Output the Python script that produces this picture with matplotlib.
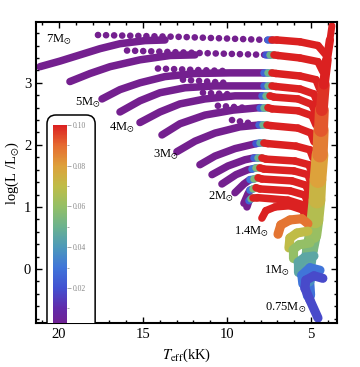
import numpy as np
import matplotlib
matplotlib.use('Agg')
import matplotlib.pyplot as plt
from matplotlib.collections import LineCollection
from matplotlib.colors import LinearSegmentedColormap, Normalize
from matplotlib.cm import ScalarMappable
from matplotlib.patches import FancyBboxPatch
from matplotlib.ticker import MultipleLocator

plt.rcParams['font.family'] = ['Liberation Serif', 'DejaVu Serif']
plt.rcParams['mathtext.fontset'] = 'stix'

# ---- data (Teff in kK, log L/Lsun) ----
# main sequence arcs, 7 Msun down to ~1.9 Msun
ms_T = [
    [21.13, 19.94, 18.75, 17.56, 16.37, 14.88, 13.69],
    [19.35, 18.15, 16.96, 15.18, 13.39, 11.90],
    [17.44, 16.37, 15.18, 13.69, 11.90, 9.82, 7.80],
    [16.37, 15.18, 13.99, 12.50, 10.71, 7.80],
    [15.18, 13.99, 12.80, 11.31, 9.52, 7.92],
    [13.87, 12.80, 11.31, 9.64, 8.04],
    [12.98, 11.90, 10.71, 9.23, 8.10],
    [11.61, 10.71, 9.52, 8.27],
    [10.89, 9.94, 8.93, 8.39],
    [10.30, 9.46, 8.75, 8.51],
    [9.52, 8.99, 8.63],
    [8.99, 8.75, 8.63],
    [8.81, 8.69],
]
ms_L = [
    [3.26, 3.35, 3.45, 3.55, 3.63, 3.68, 3.69],
    [3.02, 3.15, 3.26, 3.37, 3.44, 3.45],
    [2.74, 2.89, 3.00, 3.10, 3.15, 3.16, 3.16],
    [2.53, 2.71, 2.84, 2.92, 2.95, 2.95],
    [2.36, 2.53, 2.66, 2.74, 2.79, 2.79],
    [2.16, 2.34, 2.48, 2.56, 2.60],
    [1.89, 2.06, 2.19, 2.29, 2.32],
    [1.68, 1.82, 1.94, 2.02],
    [1.52, 1.66, 1.76, 1.79],
    [1.37, 1.52, 1.60, 1.61],
    [1.23, 1.37, 1.44],
    [1.06, 1.21, 1.27],
    [1.00, 1.10],
]
ms_val = 0.001

# sparse (fast) crossings, drawn as dots
gap_T = [
    [17.68, 12.80, 7.56],
    [15.95, 11.61, 7.68],
    [14.11, 10.12],
    [12.62, 10.12],
    [11.43, 9.52],
    [10.54, 9.05],
    [9.70, 8.63],
]
gap_L = [
    [3.77, 3.74, 3.69],
    [3.52, 3.48, 3.45],
    [3.23, 3.19],
    [3.05, 3.00],
    [2.84, 2.81],
    [2.63, 2.60],
    [2.40, 2.35],
]

# post main sequence pieces with colour value per vertex
post_T = [
    [7.56, 7.32, 7.02, 5.65, 4.58, 4.11],
    [7.68, 7.44, 7.20, 6.96, 5.65, 4.58, 4.29],
    [7.80, 7.56, 7.32, 7.08, 5.65, 4.70, 4.46],
    [7.80, 7.56, 7.32, 7.08, 5.65, 4.82, 4.58],
    [7.92, 7.68, 7.44, 7.20, 5.77, 4.94, 4.70],
    [8.04, 7.80, 7.56, 7.32, 5.77, 4.94, 4.70],
    [8.10, 7.86, 7.62, 7.38, 5.77, 5.00, 4.82],
    [8.27, 8.04, 7.80, 7.56, 5.89, 5.06, 4.88],
    [8.39, 8.15, 7.92, 7.68, 5.95, 5.12, 4.94],
    [8.51, 8.27, 8.04, 7.80, 6.01, 5.18, 5.00],
    [8.63, 8.39, 8.15, 7.92, 6.13, 5.30, 5.12],
    [8.63, 8.45, 8.27, 8.04, 6.25, 5.36, 5.18],
    [8.69, 8.57, 8.45, 8.21, 6.37, 5.42, 5.30],
    [7.92, 7.68, 7.14, 6.25, 5.48, 5.30],
]
post_L = [
    [3.69, 3.69, 3.69, 3.66, 3.60, 3.45],
    [3.45, 3.45, 3.45, 3.44, 3.40, 3.34, 3.18],
    [3.16, 3.16, 3.16, 3.15, 3.11, 3.05, 2.89],
    [2.95, 2.95, 2.95, 2.94, 2.90, 2.82, 2.66],
    [2.79, 2.79, 2.79, 2.77, 2.74, 2.65, 2.50],
    [2.60, 2.60, 2.60, 2.58, 2.55, 2.47, 2.32],
    [2.32, 2.32, 2.32, 2.31, 2.27, 2.19, 2.05],
    [2.02, 2.03, 2.03, 2.02, 1.98, 1.92, 1.79],
    [1.79, 1.79, 1.79, 1.77, 1.74, 1.68, 1.55],
    [1.61, 1.63, 1.63, 1.61, 1.58, 1.52, 1.39],
    [1.44, 1.45, 1.47, 1.45, 1.42, 1.35, 1.23],
    [1.27, 1.29, 1.31, 1.29, 1.26, 1.19, 1.06],
    [1.10, 1.13, 1.15, 1.15, 1.11, 1.03, 0.92],
    [0.82, 0.94, 1.00, 1.02, 0.95, 0.82],
]
post_v = [
    [0.003, 0.025, 0.1, 0.1, 0.1, 0.1],
    [0.003, 0.02, 0.05, 0.1, 0.1, 0.1, 0.1],
    [0.003, 0.025, 0.05, 0.1, 0.1, 0.1, 0.1],
    [0.003, 0.025, 0.05, 0.1, 0.1, 0.1, 0.1],
    [0.003, 0.025, 0.05, 0.1, 0.1, 0.1, 0.1],
    [0.003, 0.025, 0.05, 0.1, 0.1, 0.1, 0.1],
    [0.003, 0.025, 0.05, 0.1, 0.1, 0.1, 0.1],
    [0.003, 0.02, 0.045, 0.1, 0.1, 0.1, 0.1],
    [0.003, 0.025, 0.05, 0.1, 0.1, 0.1, 0.1],
    [0.003, 0.03, 0.055, 0.1, 0.1, 0.1, 0.1],
    [0.003, 0.03, 0.055, 0.1, 0.1, 0.1, 0.1],
    [0.003, 0.03, 0.055, 0.1, 0.1, 0.1, 0.1],
    [0.003, 0.025, 0.05, 0.1, 0.1, 0.1, 0.1],
    [0.1, 0.1, 0.1, 0.1, 0.1, 0.1],
]

# giant branch band
rgb_T = [5.12, 5.18, 5.18, 5.06, 4.88, 4.76, 4.64, 4.58, 4.46, 4.40, 4.35, 4.23, 4.05, 3.87, 3.75]
rgb_L = [-0.42, -0.18, 0.06, 0.31, 0.55, 0.79, 1.11, 1.44, 1.84, 2.24, 2.56, 2.97, 3.37, 3.69, 3.92]
rgb_v = [0.025, 0.033, 0.042, 0.05, 0.058, 0.064, 0.07, 0.076, 0.083, 0.09, 0.095, 0.1, 0.1, 0.1, 0.1]

# low mass tracks (1.4 Msun down to 0.75 Msun)
low_T = [
    [6.96, 6.79, 6.25, 5.54, 5.18],
    [6.31, 6.25, 5.83, 5.18],
    [6.07, 6.07, 5.71, 5.06],
    [5.77, 5.77, 5.36, 4.82],
    [5.48, 5.54, 5.06, 4.46],
    [4.58, 5.06, 5.36, 5.30, 4.82, 4.29],
]
low_L = [
    [0.56, 0.71, 0.79, 0.81, 0.73],
    [0.34, 0.50, 0.58, 0.61],
    [0.18, 0.31, 0.39, 0.42],
    [-0.05, 0.11, 0.19, 0.21],
    [-0.24, -0.10, 0.02, -0.02],
    [-0.79, -0.50, -0.31, -0.18, -0.11, -0.15],
]
low_v = [0.088, 0.07, 0.06, 0.045, 0.03, 0.018]

mass_labels = ['7M$_{\\odot}$', '5M$_{\\odot}$', '4M$_{\\odot}$', '3M$_{\\odot}$',
               '2M$_{\\odot}$', '1.4M$_{\\odot}$', '1M$_{\\odot}$', '0.75M$_{\\odot}$']
label_T = [20.0, 18.27, 16.25, 13.63, 10.36, 8.51, 7.02, 6.49]
label_L = [3.69, 2.68, 2.27, 1.84, 1.16, 0.60, -0.02, -0.63]

cbar_ticks = [0.02, 0.04, 0.06, 0.08, 0.10]

# ---- styles ----
rainbow = LinearSegmentedColormap.from_list('rainbow_m', [
    (0.00, (0.46, 0.12, 0.55)),
    (0.10, (0.38, 0.17, 0.67)),
    (0.20, (0.26, 0.32, 0.82)),
    (0.30, (0.25, 0.46, 0.85)),
    (0.40, (0.30, 0.60, 0.73)),
    (0.50, (0.42, 0.70, 0.56)),
    (0.60, (0.58, 0.75, 0.40)),
    (0.70, (0.75, 0.74, 0.28)),
    (0.80, (0.87, 0.63, 0.23)),
    (0.90, (0.90, 0.42, 0.19)),
    (1.00, (0.86, 0.13, 0.13)),
])
norm = Normalize(0.0, 0.1)
track_lw = 5.4
band_lw = [6.5, 9, 10, 11, 11.5, 12, 12, 12, 12, 11, 10, 8.5, 7, 6, 5]

fig = plt.figure(figsize=(3.6, 3.67), dpi=100)
ax = fig.add_axes([0.1, 0.1199, 0.836, 0.8202])


def colored(T, L, seg_vals, lw):
    pts = np.column_stack([T, L])
    segs = np.stack([pts[:-1], pts[1:]], axis=1)
    lc = LineCollection(segs, cmap=rainbow, norm=norm, linewidths=lw,
                        capstyle='round', joinstyle='round')
    lc.set_array(np.asarray(seg_vals))
    ax.add_collection(lc)


purple = rainbow(norm(ms_val))
for T, L in zip(ms_T, ms_L):
    ax.plot(T, L, color=purple, lw=track_lw, solid_capstyle='round',
            solid_joinstyle='round')
for T, L in zip(gap_T, gap_L):
    ax.plot(T, L, color=purple, lw=4.8, linestyle=(0, (0.01, 1.2)),
            dash_capstyle='round')
for T, L, v in zip(post_T, post_L, post_v):
    colored(T, L, v[1:], track_lw)

rv = np.asarray(rgb_v)
colored(rgb_T, rgb_L, (rv[:-1] + rv[1:]) / 2, band_lw[1:])

for T, L, v in zip(low_T, low_L, low_v):
    colored(T, L, [v] * (len(T) - 1), track_lw + 1.2)

for s, t, l in zip(mass_labels, label_T, label_L):
    ax.text(t, l, s, fontsize=9, ha='center', va='center')

ax.set_xlim(21.37, 3.45)
ax.set_ylim(-0.87, 3.98)
ax.xaxis.set_major_locator(MultipleLocator(5))
ax.xaxis.set_minor_locator(MultipleLocator(1))
ax.yaxis.set_major_locator(MultipleLocator(1))
ax.yaxis.set_minor_locator(MultipleLocator(0.2))
ax.tick_params(which='both', direction='in', top=True, right=True, labelsize=10.5, width=1)
ax.tick_params(which='major', length=4)
ax.tick_params(which='minor', length=2.5)
for sp in ax.spines.values():
    sp.set_linewidth(1.5)
ax.set_xlabel(r'$T_{\mathrm{eff}}$(kK)', fontsize=10.5, labelpad=4)
ax.set_ylabel(r'log(L /L$_{\odot}$)', fontsize=10.5, labelpad=2)

box = FancyBboxPatch((0.0365, -0.1), 0.16, 0.791,
                     boxstyle='round,pad=0,rounding_size=0.03',
                     transform=ax.transAxes, fc='white', ec='black', lw=1.1,
                     clip_on=True, zorder=3)
ax.add_patch(box)

cax = fig.add_axes([0.147, 0.1199, 0.039, 0.5395])
cbar = fig.colorbar(ScalarMappable(norm=norm, cmap=rainbow), cax=cax)
cbar.outline.set_visible(False)
cbar.set_ticks(cbar_ticks)
cbar.set_ticklabels(['%.2f' % t for t in cbar_ticks])
cax.yaxis.set_minor_locator(MultipleLocator(0.01))
cax.tick_params(which='both', colors='#888888', labelsize=5.5, width=0.5, pad=1.5)
cax.tick_params(which='major', length=3)
cax.tick_params(which='minor', length=1.5)
cax.set_ylim(0.0028, 0.1)

fig.savefig('out.png', dpi=100)
